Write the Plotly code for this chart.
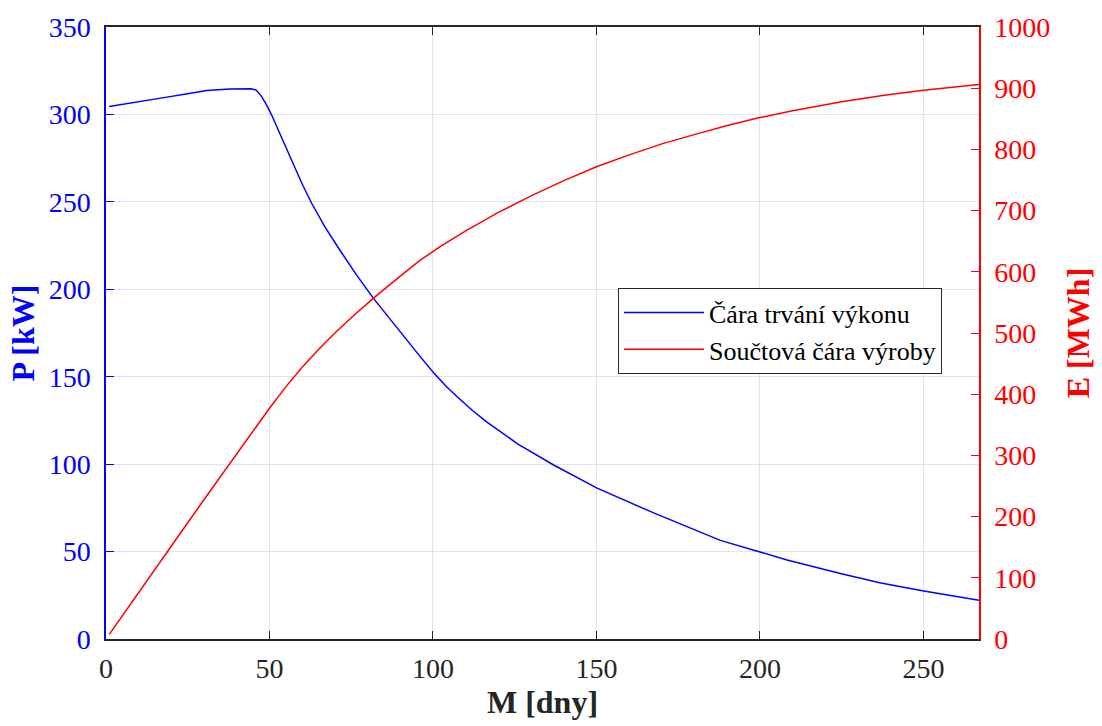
import plotly.graph_objects as go

# Power duration curve (P, kW) vs days
M_P = [1, 10, 18.6, 25, 30.8, 37.9, 44.5, 46.0, 47.5, 49.2, 50.7, 54.0, 57.3, 60.0, 62.9,
       67.0, 71.6, 76.5, 81.8, 87.0, 92.0, 96.1, 100.2, 104.0, 108.0, 112.0, 116.5, 126.0,
       136.9, 150.2, 167.5, 187.9, 200.0, 208.3, 224.6, 237.0, 250.1, 267.0]
P = [304.6, 307.5, 309.9, 311.8, 313.7, 314.6, 314.7, 313.8, 310.5, 305.2, 299.5, 285.5,
     271.4, 260.2, 249.2, 235.6, 222.2, 208.5, 194.8, 182.5, 171.2, 161.5, 152.3, 144.5,
     137.5, 130.8, 124.0, 111.5, 99.5, 86.3, 72.1, 56.4, 49.8, 45.2, 37.5, 32.0, 27.4, 22.1]

# Cumulative production curve (E, MWh) vs days
M_E = [1, 10, 20, 30, 40, 45, 50, 55, 60, 65, 70, 75, 81.8, 90, 96.1, 102.2, 110, 120, 130,
       140, 150.2, 160, 170, 181.8, 190, 200, 210, 225, 237.5, 250, 260, 267]
E = [7.5, 75, 152, 228, 303, 340, 377, 412, 444, 473, 500, 525, 557, 593, 619, 641, 667, 697,
     724, 749, 772, 791, 809, 827, 839, 852, 863, 878, 888, 896.5, 902.3, 906]

x_ticks = [0, 50, 100, 150, 200, 250]
p_ticks = [0, 50, 100, 150, 200, 250, 300, 350]
e_ticks = [0, 100, 200, 300, 400, 500, 600, 700, 800, 900, 1000]

FONT = "Liberation Serif"
BLUE = "rgb(0,0,255)"
RED = "rgb(255,0,0)"
DARK = "#262626"
TICK = 28
TITLE = 32

fig = go.Figure()
fig.add_trace(go.Scatter(x=M_P, y=P, mode="lines", name="Čára trvání výkonu",
                         line=dict(color=BLUE, width=1.5), yaxis="y"))
fig.add_trace(go.Scatter(x=M_E, y=E, mode="lines", name="Součtová čára výroby",
                         line=dict(color=RED, width=1.5), yaxis="y2"))

fig.update_layout(
    width=1102, height=726,
    margin=dict(l=106, r=123, t=21, b=87),
    paper_bgcolor="white", plot_bgcolor="white",
    font=dict(family=FONT, size=TICK, color=DARK),
    xaxis=dict(range=[0, 267], tickvals=x_ticks, ticks="inside", ticklen=8,
               tickcolor=DARK, showline=True, linecolor=DARK, linewidth=1.5,
               mirror="ticks", showgrid=True, gridcolor="#e3e3e3", gridwidth=1,
               zeroline=False, tickfont=dict(family=FONT, size=TICK, color=DARK),
               ticklabelstandoff=4,
               title=dict(text="<b>M [dny]</b>", font=dict(family=FONT, size=TITLE, color=DARK),
                          standoff=6)),
    yaxis=dict(range=[0, 350], tickvals=p_ticks, ticks="inside", ticklen=8,
               tickcolor=BLUE, showline=True, linecolor=BLUE, linewidth=1.5,
               showgrid=True, gridcolor="#e0e0ff", gridwidth=1, zeroline=False,
               tickfont=dict(family=FONT, size=TICK, color=BLUE), ticklabelstandoff=8,
               title=dict(text="<b>P [kW]</b>", font=dict(family=FONT, size=TITLE, color=BLUE),
                          standoff=4)),
    yaxis2=dict(range=[0, 1000], tickvals=e_ticks, overlaying="y", side="right",
                ticks="inside", ticklen=8, tickcolor=RED, showline=True, linecolor=RED,
                linewidth=1.5, showgrid=False, zeroline=False,
                tickfont=dict(family=FONT, size=TICK, color=RED), ticklabelstandoff=8,
                title=dict(text="<b>E [MWh]</b>", font=dict(family=FONT, size=TITLE, color=RED),
                           standoff=17)),
    legend=dict(x=0.5865, y=0.503, xanchor="left", yanchor="middle",
                bgcolor="white", bordercolor=DARK, borderwidth=1,
                font=dict(family=FONT, size=26, color="black"),
                tracegroupgap=0, itemwidth=80),
    showlegend=True,
)

fig.write_html("out.html")
